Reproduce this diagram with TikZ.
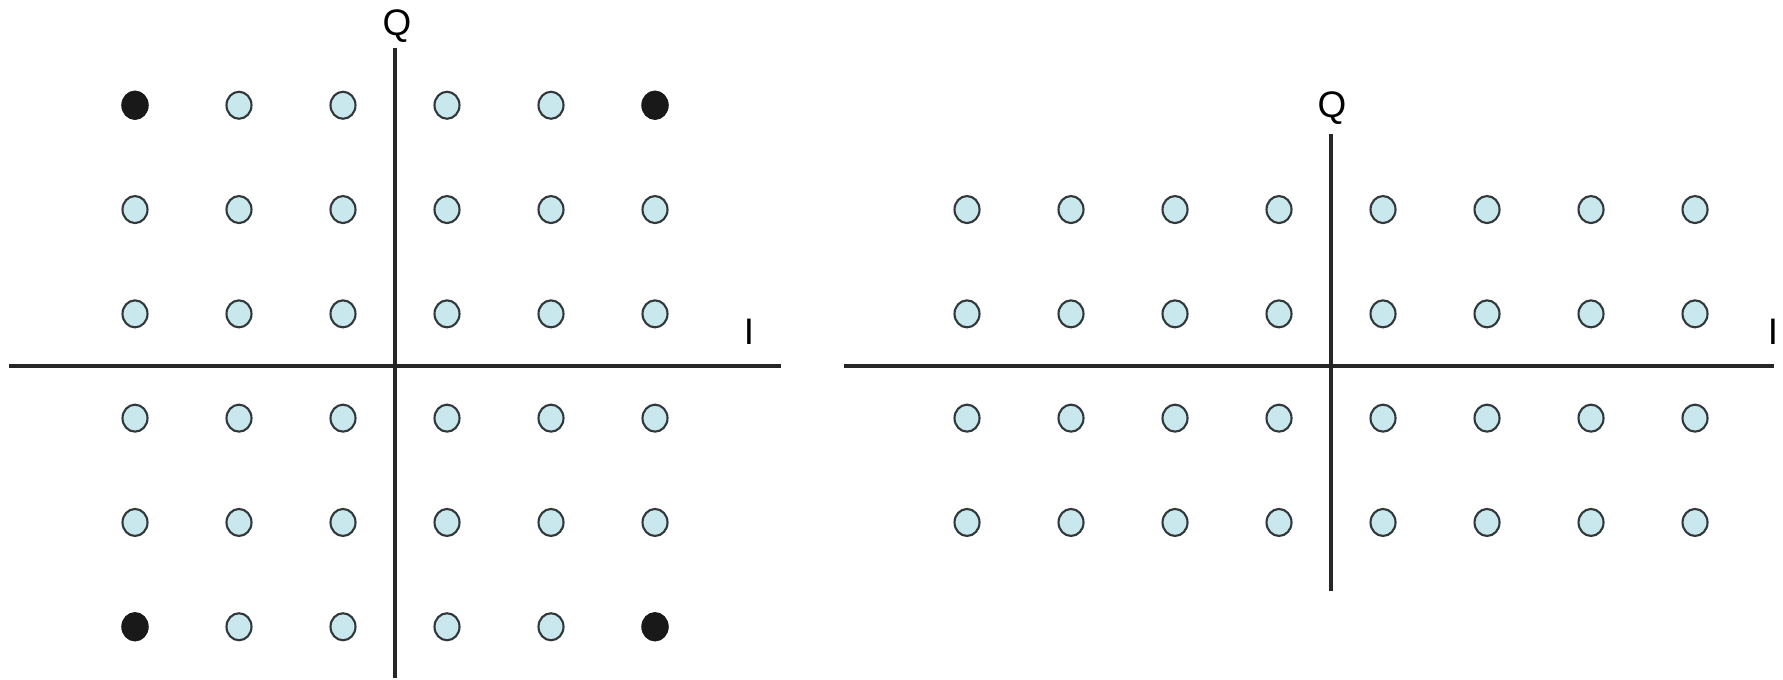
\documentclass[tikz,border=0pt]{standalone}
\usepackage{fontspec}
\setmainfont{Liberation Sans}
\usepackage{tikz}
\usetikzlibrary{positioning}

\definecolor{dotfill}{RGB}{200,232,238}
\definecolor{dotline}{RGB}{50,55,58}

\tikzset{
  axis/.style={line width=1pt, black!85},
  pt/.style={draw=dotline, fill=dotfill, line width=0.6pt},
  corner/.style={draw=black!90, fill=black!90, line width=0.6pt},
  lbl/.style={font=\fontsize{10.5}{12}\selectfont, inner sep=0pt}
}

\begin{document}
\begin{tikzpicture}[x=0.01cm, y=-0.01cm]

  \useasboundingbox (0,0) rectangle (1783,679);

  % ── Left constellation (6 x 6) ───────────────────────────────────────
  \coordinate (lqtop) at (395,48);
  \coordinate (lqbot) at (395,678);
  \coordinate (lileft) at (9,366);
  \coordinate (liright) at (781,366);
  \draw[axis] (lqtop) -- (lqbot);
  \draw[axis] (lileft) -- (liright);
  \node[lbl] (lq) at (397,26) {Q};
  \node[lbl] (li) at (749,332) {I};

  \foreach \i in {0,...,5}
    \foreach \j in {0,...,5} {
      \pgfmathsetmacro{\px}{395+(\i-2.5)*104}
      \pgfmathsetmacro{\py}{366+(\j-2.5)*104.3}
      \draw[pt] (\px,\py) ellipse [x radius=12.5, y radius=13.5];
    }

  % black corner points
  \foreach \i/\j in {0/0, 5/0, 0/5, 5/5} {
    \pgfmathsetmacro{\px}{395+(\i-2.5)*104}
    \pgfmathsetmacro{\py}{366+(\j-2.5)*104.3}
    \draw[corner] (\px,\py) ellipse [x radius=12.5, y radius=13.5];
  }

  % ── Right constellation (8 x 4) ──────────────────────────────────────
  \coordinate (rqtop) at (1331,134);
  \coordinate (rqbot) at (1331,591);
  \coordinate (rileft) at (844,366);
  \coordinate (riright) at (1774,366);
  \draw[axis] (rqtop) -- (rqbot);
  \draw[axis] (rileft) -- (riright);
  \node[lbl] (rq) at (1332,108) {Q};
  \node[lbl] (ri) at (1773,332) {I};

  \foreach \i in {0,...,7}
    \foreach \j in {0,...,3} {
      \pgfmathsetmacro{\px}{1331+(\i-3.5)*104}
      \pgfmathsetmacro{\py}{366+(\j-1.5)*104.3}
      \draw[pt] (\px,\py) ellipse [x radius=12.5, y radius=13.5];
    }

\end{tikzpicture}
\end{document}
